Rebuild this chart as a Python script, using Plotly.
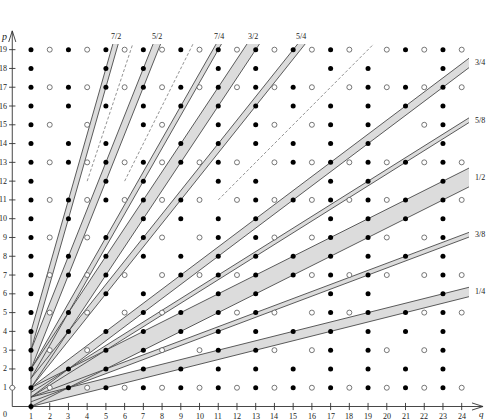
import plotly.graph_objects as go

# lattice of (q, p) points, rows from p = 19 down to p = 0, columns q = 0..24
# '#' filled dot, 'o' open dot, '.' nothing
P_TOP = 19
DOT_ROWS = [
    ".#o#o#o#o#o#o#o#o#o.o#o#o",  # 19
    ".#...#.#...#.#...#.#...#.",  # 18
    ".#o#o#o#o#o#o#o#o.o#o#o#o",  # 17
    ".#.#.#.#.#.#.#.#.#.#.#.#.",  # 16
    ".#o.o..#o..#.#o.o#.#..o#.",  # 15
    ".#.#.#...#.#.#.#.#.#...#.",  # 14
    ".#o#o#o#o#o#o.o#o#o#o#o#o",  # 13
    ".#...#.#...#.#...#.#...#.",  # 12
    ".#o#o#o#o#o.o#o#o#o#o#.#o",  # 11
    ".#.#...#.#.#.#...#.#.#.#.",  # 10
    ".#o.o#.#o.o#.#o.o#.#o.o#.",  # 9
    ".#.#.#.#.#.#.#.#.#.#.#.#.",  # 8
    ".#o#o#o.o#o#o#.#o#o#o.o#o",  # 7
    ".#...#.#...#.#...#.#...#.",  # 6
    ".#o#o.o#o#.#o#o.o#o#.#o#o",  # 5
    ".#.#.#.#.#.#.#.#.#.#.#.#.",  # 4
    ".#o.o#.#o.o#.#o.o#.#o.o#.",  # 3
    ".#.#.#.#.#.#.#.#.#.#.#.#.",  # 2
    "o#o#o#o#o#o#o#o#o#o#o#o#o",  # 1
    ".#.......................",  # 0
]

# shaded strips |den*p - num*q| <= 1, starting at q = 1
BAND_LABELS = ["7/2", "5/2", "7/4", "3/2", "5/4", "3/4", "5/8", "1/2", "3/8", "1/4"]
BAND_NUM = [7, 5, 7, 3, 5, 3, 5, 1, 3, 1]
BAND_DEN = [2, 2, 4, 2, 4, 4, 8, 2, 8, 4]

# dashed rays p = slope*q, starting at q = start
DASH_SLOPES = [3, 2, 1]
DASH_START_Q = [4, 6, 11]

X_TICKS = list(range(1, 25))
Y_TICKS = list(range(1, 20))

Q_END = 24.39   # where the strips stop on the right
P_END = 19.3    # where they stop at the top

SERIF = "Liberation Serif, Times New Roman, serif"
FILL = "#dcdcdc"
EDGE = "#4a4a4a"

fig = go.Figure()


def strip(num, den):
    r, w = num / den, 1 / den
    q_lo = min(Q_END, (P_END + w) / r)
    q_hi = min(Q_END, (P_END - w) / r)
    lower = [(1, r - w), (q_lo, r * q_lo - w)]
    upper = [(1, r + w), (q_hi, r * q_hi + w)]
    poly = lower[:]
    if q_lo == Q_END and r * Q_END + w > P_END:
        poly.append((Q_END, P_END))
    poly += upper[::-1]
    return poly, lower, upper


edge_x, edge_y = [], []
for lab, n, d in zip(BAND_LABELS, BAND_NUM, BAND_DEN):
    poly, lower, upper = strip(n, d)
    fig.add_trace(go.Scatter(
        x=[p[0] for p in poly], y=[p[1] for p in poly],
        fill="toself", fillcolor=FILL, mode="none", hoverinfo="skip"))
    for seg in (lower, upper):
        edge_x += [seg[0][0], seg[1][0], None]
        edge_y += [seg[0][1], seg[1][1], None]
    # label at the end of the strip
    r = n / d
    if r * Q_END < P_END:
        fig.add_annotation(x=Q_END, y=r * Q_END, text=lab, showarrow=False,
                           xanchor="left", yanchor="middle", xshift=4,
                           font=dict(family=SERIF, size=8, color="#222"))
    else:
        fig.add_annotation(x=P_END / r, y=P_END, text=lab, showarrow=False,
                           xanchor="center", yanchor="bottom", yshift=1,
                           font=dict(family=SERIF, size=8, color="#222"))

# left boundary of the strips on q = 1
edge_x += [1, 1, None]
edge_y += [0, 4, None]
fig.add_trace(go.Scatter(x=edge_x, y=edge_y, mode="lines",
                         line=dict(color=EDGE, width=0.9), hoverinfo="skip"))

dx, dy = [], []
for s, q0 in zip(DASH_SLOPES, DASH_START_Q):
    dx += [q0, P_END / s, None]
    dy += [s * q0, P_END, None]
fig.add_trace(go.Scatter(x=dx, y=dy, mode="lines",
                         line=dict(color="#777", width=0.8, dash="3px,2px"),
                         hoverinfo="skip"))

# axes, ticks and arrows
ax_x = [0, 25.14, None, 0, 0, None]
ax_y = [0, 0, None, 0, 20.0, None]
ax_x += [24.55, 25.14, 24.55, None]
ax_y += [0.19, 0, -0.19, None]
ax_x += [-0.19, 0, 0.19, None]
ax_y += [19.41, 20.0, 19.41, None]
for q in X_TICKS:
    ax_x += [q, q, None]
    ax_y += [-0.19, 0.19, None]
for p in Y_TICKS:
    ax_x += [-0.17, 0.17, None]
    ax_y += [p, p, None]
fig.add_trace(go.Scatter(x=ax_x, y=ax_y, mode="lines",
                         line=dict(color="#333", width=0.9), hoverinfo="skip"))

fx, fy, ox, oy = [], [], [], []
for i, row in enumerate(DOT_ROWS):
    p = P_TOP - i
    for q, c in enumerate(row):
        if c == "#":
            fx.append(q); fy.append(p)
        elif c == "o":
            ox.append(q); oy.append(p)
fig.add_trace(go.Scatter(x=ox, y=oy, mode="markers", cliponaxis=False,
                         marker=dict(size=5, color="white",
                                     line=dict(color="#555", width=0.8)),
                         hoverinfo="skip"))
fig.add_trace(go.Scatter(x=fx, y=fy, mode="markers", cliponaxis=False,
                         marker=dict(size=5, color="black"), hoverinfo="skip"))

tick_font = dict(family=SERIF, size=8, color="#222")
for q in X_TICKS:
    fig.add_annotation(x=q, y=0, text=str(q), showarrow=False,
                       yanchor="middle", yshift=-10, font=tick_font)
for p in Y_TICKS:
    fig.add_annotation(x=0, y=p, text=str(p), showarrow=False,
                       xanchor="right", xshift=-3, font=tick_font)
fig.add_annotation(x=0, y=0, text="0", showarrow=False,
                   xshift=-7, yshift=-8, font=tick_font)
fig.add_annotation(x=0, y=20.0, text="<i>p</i>", showarrow=False,
                   xshift=-8, yshift=-6, font=dict(family=SERIF, size=10, color="#222"))
fig.add_annotation(x=25.14, y=0, text="<i>q</i>", showarrow=False,
                   xshift=-2, yshift=-7, font=dict(family=SERIF, size=9, color="#222"))

fig.update_layout(
    width=493, height=420,
    margin=dict(l=0, r=0, t=0, b=0),
    paper_bgcolor="white", plot_bgcolor="white",
    showlegend=False,
    xaxis=dict(range=[-0.655, 25.672], visible=False),
    yaxis=dict(range=[-0.719, 21.645], visible=False),
)

# page body has a default margin; drop it so the figure fills the window
fig.write_html("out.html", config={"displayModeBar": False},
               post_script="document.body.style.margin='0';")
